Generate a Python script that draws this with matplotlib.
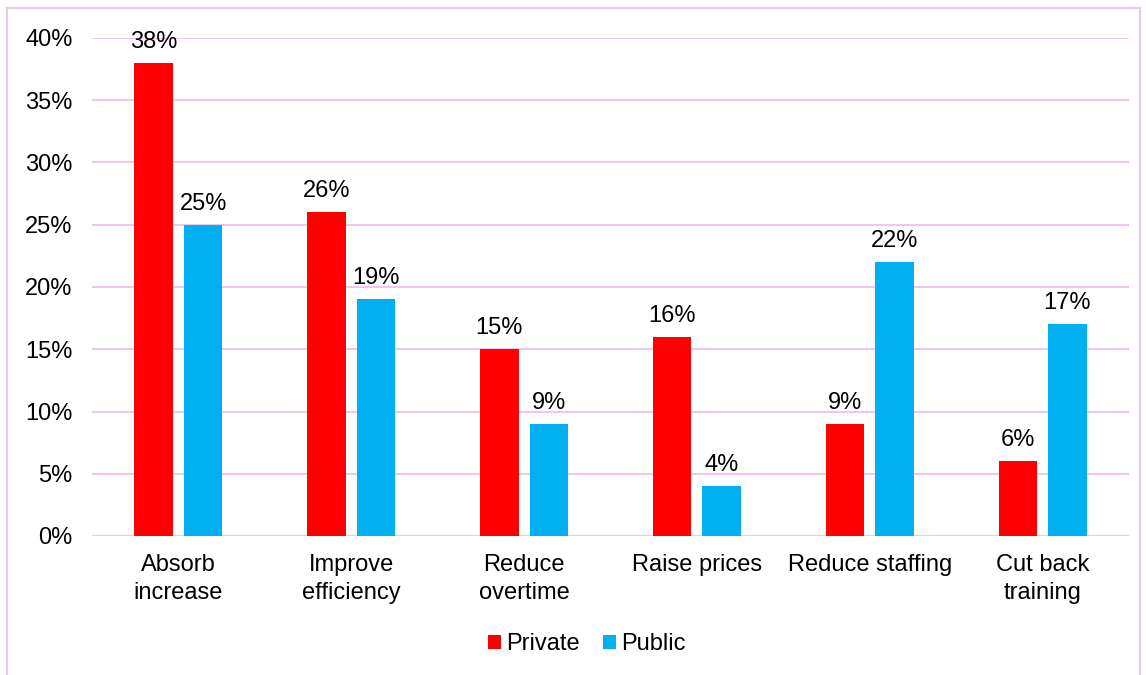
import matplotlib
matplotlib.use("Agg")
import matplotlib.pyplot as plt
from matplotlib.patches import Rectangle
import numpy as np

categories = ["Absorb\nincrease", "Improve\nefficiency", "Reduce\novertime",
              "Raise prices", "Reduce staffing", "Cut back\ntraining"]
private = [38, 26, 15, 16, 9, 6]
public = [25, 19, 9, 4, 22, 17]
yticks = [0, 5, 10, 15, 20, 25, 30, 35, 40]

plt.rcParams['font.family'] = ['Liberation Sans', 'DejaVu Sans']
fig = plt.figure(figsize=(11.46, 6.75), dpi=100)
ax = fig.add_axes([92/1146, 1-536/675, (1129-92)/1146, (536-38)/675])

grid_c = '#EEC6F0'
fs = 17
x = np.arange(len(categories))
w = 0.223
off = 0.143
b1 = ax.bar(x - off, private, w, color='#FF0000', label='Private', zorder=3)
b2 = ax.bar(x + off, public, w, color='#00B0F0', label='Public', zorder=3)
for bars, vals in ((b1, private), (b2, public)):
    for r, v in zip(bars, vals):
        ax.text(r.get_x() + r.get_width()/2, v + 0.8, f"{v}%", ha='center', va='bottom',
                fontsize=fs, color='black', zorder=4)

ax.set_xlim(-0.5, len(categories) - 0.5)
ax.set_ylim(0, 40)
ax.set_yticks(yticks)
ax.set_yticklabels([f"{t}%" for t in yticks], fontsize=fs)
ax.set_xticks(x)
ax.set_xticklabels(categories, fontsize=fs, linespacing=1.37)
ax.tick_params(axis='both', length=0)
ax.tick_params(axis='x', pad=13)
ax.tick_params(axis='y', pad=14)
for t in yticks:
    ax.axhline(t, color=grid_c, lw=1.5, zorder=1)
for s in ax.spines.values():
    s.set_visible(False)

leg = fig.legend(loc='center', bbox_to_anchor=(587/1146, 1-644/675), ncol=2, frameon=False,
                 fontsize=fs, handlelength=0.55, handleheight=0.55, handletextpad=0.2,
                 columnspacing=1.0)

fig.patches.append(Rectangle((7/1146, -0.02), (1140-7)/1146, 1.02 - 8/675,
                             transform=fig.transFigure, fill=False, edgecolor='#E8C8EE', lw=1.5))

fig.savefig("out.png", dpi=100)
